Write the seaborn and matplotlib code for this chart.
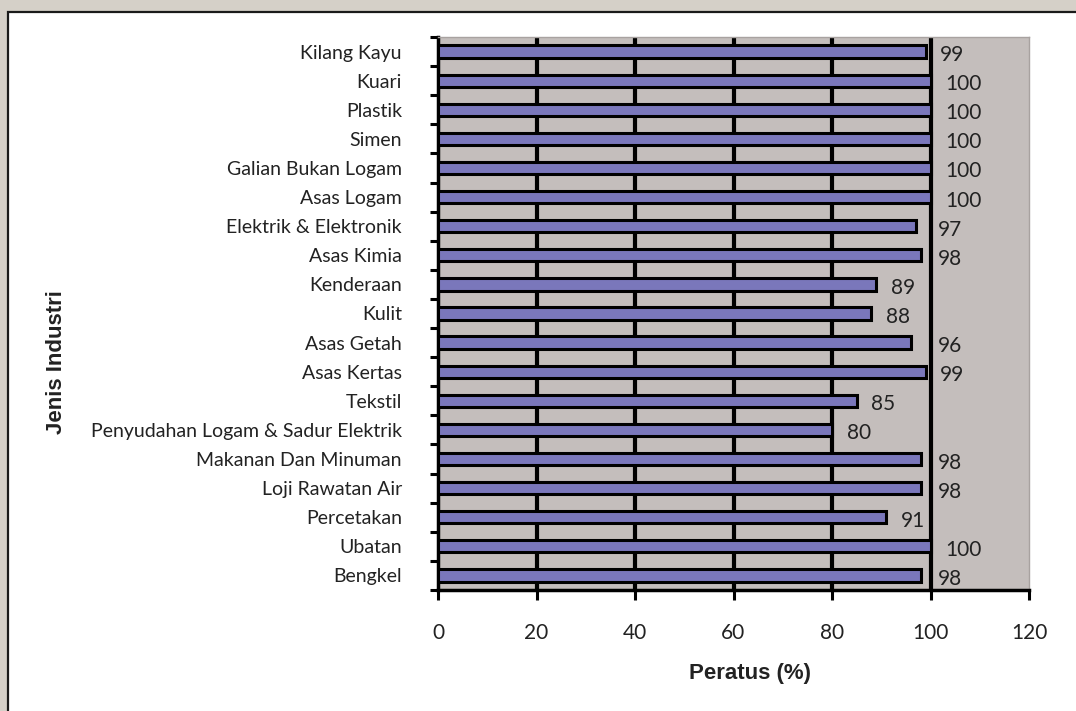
import matplotlib
matplotlib.use("Agg")
import matplotlib.pyplot as plt
import seaborn as sns
import pandas as pd
from matplotlib.patches import Rectangle
from matplotlib.ticker import FixedLocator

categories = ["Kilang Kayu", "Kuari", "Plastik", "Simen", "Galian Bukan Logam",
              "Asas Logam", "Elektrik & Elektronik", "Asas Kimia", "Kenderaan",
              "Kulit", "Asas Getah", "Asas Kertas", "Tekstil",
              "Penyudahan Logam & Sadur Elektrik", "Makanan Dan Minuman",
              "Loji Rawatan Air", "Percetakan", "Ubatan", "Bengkel"]
values = [99, 100, 100, 100, 100, 100, 97, 98, 89, 88, 96, 99, 85, 80, 98, 98, 91, 100, 98]
x_ticks = [0, 20, 40, 60, 80, 100, 120]
x_label = "Peratus (%)"
y_label = "Jenis Industri"

df = pd.DataFrame({"industri": categories, "peratus": values})

sns.set_theme(style="white")
plt.rcParams["font.family"] = ["Lato", "DejaVu Sans"]

W, H = 1076, 711
fig = plt.figure(figsize=(W / 100, H / 100), dpi=100)
fig.patch.set_facecolor("#d5d0c8")
fig.patches.append(Rectangle((8 / W, -0.01), 1.0, 1 - 12 / H + 0.01, transform=fig.transFigure,
                             facecolor="white", edgecolor="#1a1a1a", linewidth=1.6, zorder=-5))

ax = fig.add_axes([438 / W, 1 - 590 / H, (1029 - 438) / W, (590 - 37) / H])
ax.set_zorder(2)
ax.set_facecolor("#c4bebc")

sns.barplot(data=df, x="peratus", y="industri", orient="h", color="#7a77bb",
            saturation=1, width=0.42, edgecolor="black", linewidth=2.2, ax=ax, zorder=3)

ax.set_xlim(0, 120)
ax.set_ylim(len(categories) - 0.5, -0.5)
ax.xaxis.set_major_locator(FixedLocator(x_ticks))
ax.set_xticklabels([str(t) for t in x_ticks], fontsize=15, color="#222222")

for t in x_ticks[1:-1]:
    ax.axvline(t, color="black", linewidth=3, zorder=2)

ax.set_yticks(range(len(categories)))
ax.set_yticklabels(categories, fontsize=14, color="#222222")
ax.yaxis.set_minor_locator(FixedLocator([i - 0.5 for i in range(len(categories) + 1)]))
ax.tick_params(axis="y", which="major", length=0, pad=26)
ax.tick_params(axis="y", which="minor", left=True, length=6, width=2.2, color="black", direction="out")
ax.tick_params(axis="x", which="major", bottom=True, length=7, width=2.2, color="black",
               direction="out", pad=17)

for s in ["left", "bottom"]:
    ax.spines[s].set_color("black")
    ax.spines[s].set_linewidth(2.5)
for s in ["top", "right"]:
    ax.spines[s].set_color("#a8a2a0")
    ax.spines[s].set_linewidth(1)

for i, v in enumerate(values):
    lx = v + 3 if v + 8 < 100 else max(v + 3, 101.5)
    ax.text(lx, i + 0.12, str(v), ha="left", va="center", fontsize=15,
            color="#222222", zorder=4)

ax.set_xlabel("")
ax.set_ylabel("")
fig.text(750 / W, 1 - 673 / H, x_label, ha="center", va="center", fontsize=16,
         fontweight="bold", family=["Liberation Sans"], color="#222222")
fig.text(56 / W, 1 - 362 / H, y_label, ha="center", va="center", rotation=90, fontsize=16,
         fontweight="bold", family=["Liberation Sans"], color="#222222")

fig.savefig("out.png", dpi=100, facecolor=fig.get_facecolor())
